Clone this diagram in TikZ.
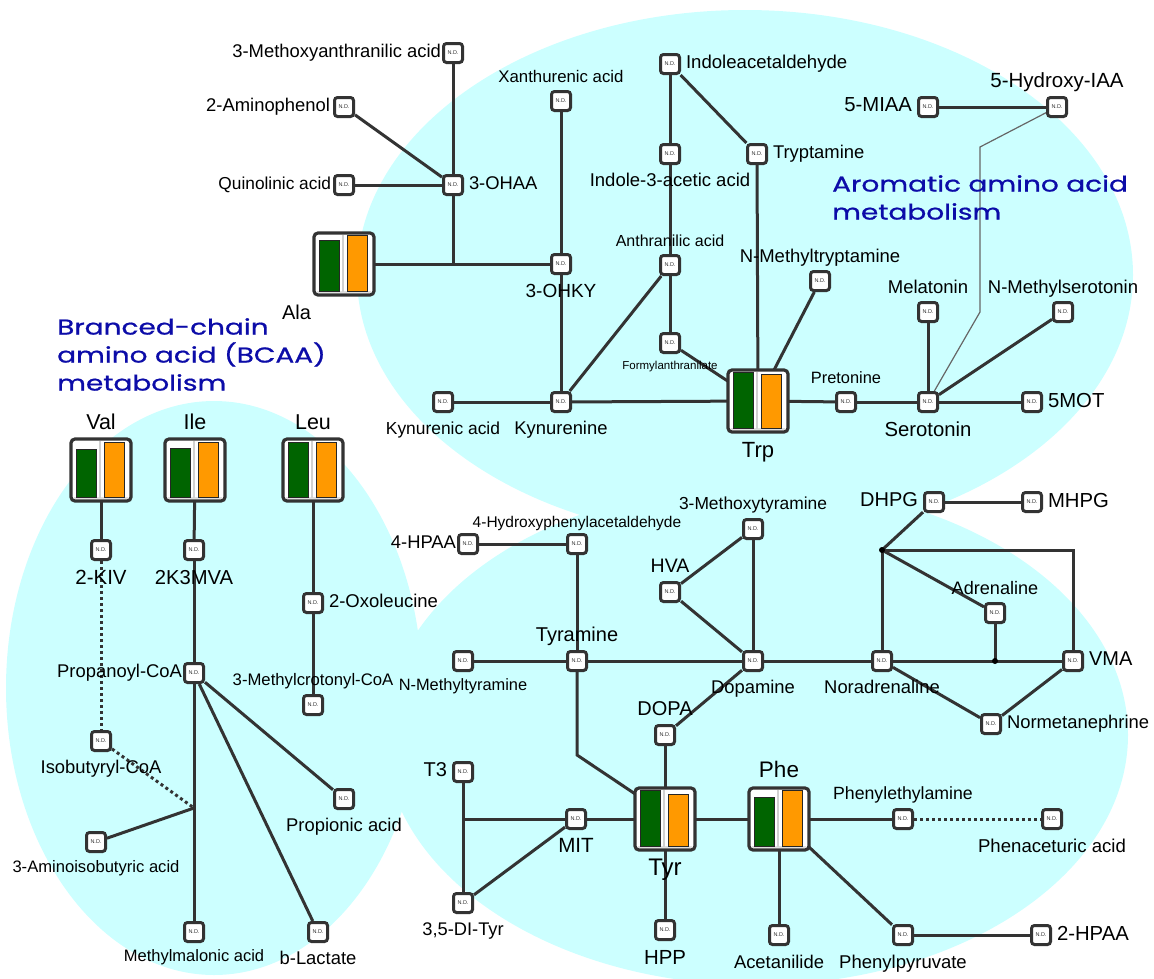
\documentclass[tikz,border=0pt]{standalone}
\usepackage{fontspec}
\setmainfont{Liberation Sans}
\newfontfamily\titlefont[FakeStretch=1.3,FakeBold=0.8]{Poppins}
\usetikzlibrary{positioning,calc}
\definecolor{blob}{RGB}{204,255,255}
\definecolor{edge}{RGB}{51,51,51}
\definecolor{grbar}{RGB}{0,100,0}
\definecolor{orbar}{RGB}{255,153,0}
\definecolor{ttl}{RGB}{12,12,168}
\newcommand\fs[1]{\fontsize{#1}{#1}\selectfont}
\newcommand\bars[3]{%
  \fill[black!12] ($(#1.south west)+(3pt,2.5pt)$) rectangle ($(#1.south east)+(-3pt,4pt)$);
  \draw[black!18,line width=1.2pt] ($(#1.south)+(-1pt,3.5pt)$) -- ($(#1.north)+(-1pt,-2pt)$);
  \draw[bar,fill=grbar] ($(#1.south west)+(5pt,3.5pt)$) rectangle ($(#1.north west)+(25pt,-#2pt)$);
  \draw[bar,fill=orbar] ($(#1.south west)+(33.5pt,3.5pt)$) rectangle ($(#1.north west)+(53pt,-#3pt)$);
}
\begin{document}
\begin{tikzpicture}[x=1pt,y=-1pt,
  nd/.style={draw=edge,fill=white,line width=3pt,rounded corners=3pt,minimum size=19pt,inner sep=0pt,font=\fs{5.5},text=edge},
  box/.style={draw=edge,fill=white,line width=3.2pt,rounded corners=4pt,minimum width=60pt,minimum height=62pt,inner sep=0pt,outer sep=0pt},
  bar/.style={draw=black!85,line width=.8pt},
  lbl/.style={inner sep=0pt,outer sep=0pt,text depth=4pt},
  link/.style={draw=edge,line width=3pt},
  dots/.style={link,dash pattern=on 3pt off 3pt},
  thin/.style={draw=black!60,line width=1.2pt},
  title/.style={inner sep=0pt,anchor=north west,align=left,text=ttl,font={\titlefont\fontsize{21.5}{28}\selectfont}}]
\useasboundingbox (0,0) rectangle (1154,978);
\fill[blob] (745,275) ellipse [x radius=388pt, y radius=265pt];
\fill[blob] (214,688) ellipse [x radius=208pt, y radius=287pt];
\fill[blob] (756,735) ellipse [x radius=372pt, y radius=250pt];

\foreach \n/\x/\y in {mxa/453/53, amph/344/107, quin/344/185, ohaa/453/185, xan/561/101, ohky/561/264,
  kyn/561/402, kyna/443/402, anth/670/265, form/670/343, iald/670/64, iaa/670/154, tryp/757/154,
  nmt/820/281, pret/846/402, sero/928/402, mel/928/312, nms/1063/312, mot/1032/402, miaa/928/107,
  hiaa/1057/107, kiv/101/550, kmva/194/550, oxl/313/603, mcc/313/705, prop/194/673, ibu/101/741,
  aiba/96/842, mma/194/932, blac/318/932, pna/344/799, hpaa/468/544, hpal/577/544, tyra/577/661,
  nmty/463/661, dpm/753/661, hva/670/592, mt/753/529, nor/882/661, adr/995/613, vma/1073/661,
  nmn/991/724, dhpg/934/502, mhpg/1032/502, dopa/665/735, mit/576/819, tthree/463/772, dit/463/903,
  hpp/665/930, acet/779/935, pea/903/819, pac/1052/819, ppy/903/935, hpaatwo/1041/935}
  \node[nd] (\n) at (\x,\y) {N.D.};
\foreach \n/\x/\y/\g/\o in {ala/344/264/7.5/2.5, trp/758/401/2.5/4.5, val/101/470/10/3, ile/195/470/9.5/3.5,
  leu/313/470/3.8/3.8, tyr/665/819/2.8/6.8, phe/779/819/9/2.8}
  {\node[box] (\n) at (\x,\y) {}; \bars{\n}{\g}{\o}}

\coordinate (j1) at (453,264);
\coordinate (j2) at (194,808);
\coordinate (j3) at (882,550);
\coordinate (j4) at (463,819);
\coordinate (j5) at (995,661);
\coordinate (tybend) at (577,755);
\coordinate (g1) at (980,147);
\coordinate (g2) at (980,312);

\foreach \a/\b in {mxa/ohaa, amph/ohaa, quin/ohaa, ohaa/j1, ala/ohky, xan/ohky, ohky/kyn, kyna/kyn, kyn/trp,
  kyn/anth, anth/form, form/trp, iald/iaa, iaa/anth, iald/tryp, tryp/trp, nmt/trp, trp/pret, pret/sero,
  sero/mot, mel/sero, nms/sero, miaa/hiaa, val/kiv, ile/kmva, kmva/prop, prop/mma, aiba/j2, prop/pna,
  prop/blac, leu/oxl, oxl/mcc, hpaa/hpal, hpal/tyra, nmty/tyra, tyra/dpm, dpm/nor, nor/vma, hva/mt,
  hva/dpm, mt/dpm, nor/nmn, nmn/vma, dhpg/mhpg, dhpg/j3, j3/nor, j3/adr, adr/j5, dopa/dpm, dopa/tyr,
  tthree/dit, j4/mit, dit/mit, mit/tyr, tyr/hpp, tyr/phe, phe/pea, phe/acet, phe/ppy, ppy/hpaatwo}
  \draw[link] (\a) -- (\b);
\draw[link] (j3) -| (vma);
\draw[link] (tyra) -- (tybend) -- (tyr.140);
\foreach \a/\b in {kiv/ibu, ibu/j2, pea/pac} \draw[dots] (\a) -- (\b);
\draw[thin] (hiaa) -- (g1) -- (g2) -- (sero);
\fill[black] (j3) circle (3pt) (j5) circle (3pt);

\foreach \n/\t/\s/\g in {mxa/3-Methoxyanthranilic acid/18.4/1pt, amph/2-Aminophenol/18.4/3pt,
  quin/Quinolinic acid/17.3/2pt, miaa/5-MIAA/20.3/5pt, prop/Propanoyl-CoA/18.4/1pt, hpaa/4-HPAA/18.4/1pt,
  tthree/T3/20/5pt, dhpg/DHPG/20/5pt}
  \node[lbl,font=\fs{\s},left=\g of \n] (\n-l) {\t};
\foreach \n/\t/\s in {ohaa/3-OHAA/18.4, iald/Indoleacetaldehyde/18.6, tryp/Tryptamine/18.4, mot/5MOT/20.3,
  oxl/2-Oxoleucine/18.5, vma/VMA/20, nmn/Normetanephrine/18.4, mhpg/MHPG/20.3, hpaatwo/2-HPAA/20.3}
  \node[lbl,font=\fs{\s},right=5pt of \n] (\n-l) {\t};
\foreach \n/\t/\s/\g in {ohky/3-OHKY/19/9pt, kyn/Kynurenine/18.4/8.5pt, kyna/Kynurenic acid/17.4/8.5pt,
  form/Formylanthranilate/11.5/7pt, iaa/Indole-3-acetic acid/18.5/8.5pt, sero/Serotonin/20.3/8.5pt,
  trp/Trp/22/10pt, kiv/2-KIV/20.5/9.5pt, kmva/2K3MVA/20.2/9.5pt, ibu/Isobutyryl-CoA/18.4/8pt,
  aiba/3-Aminoisobutyric acid/16.6/7pt, mma/Methylmalonic acid/16.5/7pt, blac/b-Lactate/18.4/8.5pt,
  pna/Propionic acid/18.4/8.5pt, nmty/N-Methyltyramine/16.4/7pt, dpm/Dopamine/18.4/8.5pt,
  nor/Noradrenaline/18.4/8.5pt, tyr/Tyr/24/9pt, mit/MIT/20.6/8.5pt, dit/{3,5-DI-Tyr}/18.3/9pt,
  hpp/HPP/20.4/9pt, acet/Acetanilide/18.4/9pt, ppy/Phenylpyruvate/18.5/9pt, pac/Phenaceturic acid/18.6/9pt}
  \node[lbl,font=\fs{\s},below=\g of \n] (\n-l) {\t};
\foreach \n/\t/\s/\g in {xan/Xanthurenic acid/16.8/4pt, anth/Anthranilic acid/16/4pt,
  nmt/N-Methyltryptamine/18.5/3.5pt, pret/Pretonine/16.4/4pt, mel/Melatonin/18.5/3.5pt,
  nms/N-Methylserotonin/18.5/3.5pt, hiaa/5-Hydroxy-IAA/20.5/4.5pt, val/Val/21.5/5.8pt, ile/Ile/21.5/5.8pt,
  leu/Leu/21.5/5.8pt, mcc/3-Methylcrotonyl-CoA/16.7/5pt, hpal/4-Hydroxyphenylacetaldehyde/15.5/1.5pt,
  tyra/Tyramine/20/5pt, hva/HVA/19.5/5pt, mt/3-Methoxytyramine/17.4/5pt, adr/Adrenaline/18.1/3.5pt,
  dopa/DOPA/20/5pt, phe/Phe/22.5/6.5pt, pea/Phenylethylamine/17.7/5pt}
  \node[lbl,font=\fs{\s},above=\g of \n] (\n-l) {\t};
\node[lbl,font=\fs{20},below left=10pt and 3pt of ala] (ala-l) {Ala};

\node[title] (arom) at (832,175) {Aromatic amino acid\\metabolism};
\node[title] (bcaa) at (57,318) {Branced-chain\\amino acid (BCAA)\\metabolism};
\end{tikzpicture}
\end{document}
